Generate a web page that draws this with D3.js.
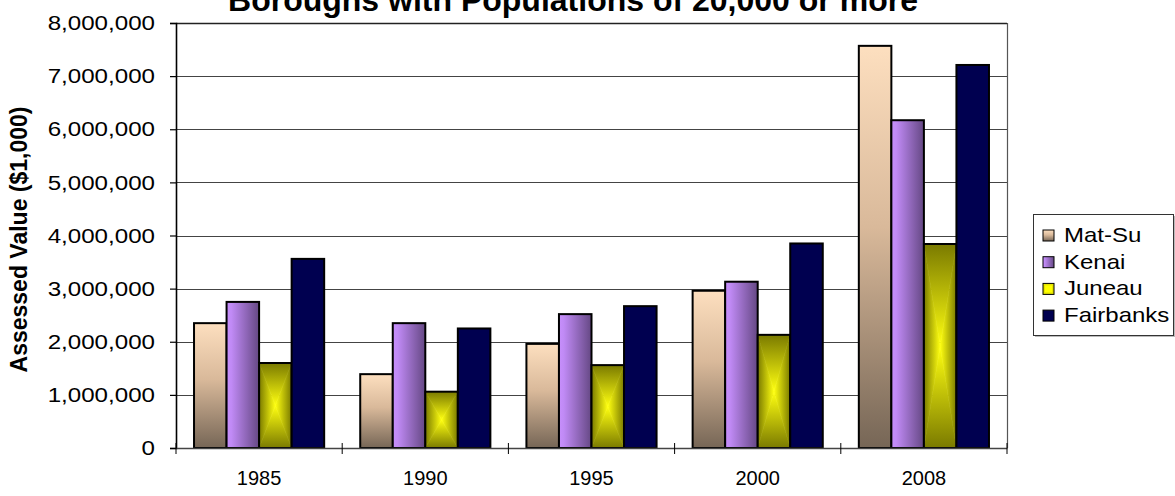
<!DOCTYPE html>
<html>
<head>
<meta charset="utf-8">
<script src="https://cdn.jsdelivr.net/npm/d3@7/dist/d3.min.js"></script>
<style>
  html, body { margin: 0; padding: 0; background: #fff; }
  svg { display: block; font-family: Arial, "Liberation Sans", sans-serif; }
</style>
</head>
<body>
<svg id="chart" width="1175" height="496"></svg>
<script>
// Assessed value by borough, thousands of dollars
const categories = ["1985", "1990", "1995", "2000", "2008"];
const seriesNames = ["Mat-Su", "Kenai", "Juneau", "Fairbanks"];
const matSu     = [2350000, 1390000, 1960000, 2960000, 7570000];
const kenai     = [2750000, 2350000, 2520000, 3130000, 6170000];
const juneau    = [1600000, 1060000, 1560000, 2130000, 3840000];
const fairbanks = [3560000, 2250000, 2670000, 3850000, 7210000];
const yTicks = [0, 1000000, 2000000, 3000000, 4000000, 5000000, 6000000, 7000000, 8000000];

const titleText = "Boroughs with Populations of 20,000 or more";
const yTitleText = "Assessed Value ($1,000)";

const seriesValues = [matSu, kenai, juneau, fairbanks];

const svg = d3.select("#chart");
const plot = { left: 176, right: 1007, top: 23, bottom: 448 };

const x = d3.scaleBand().domain(categories).range([plot.left, plot.right]).padding(0);
const xs = d3.scaleBand().domain(seriesNames).range([0, x.bandwidth()])
  .paddingInner(0).paddingOuter(0.554);
const y = d3.scaleLinear().domain([0, 8000000]).range([plot.bottom, plot.top]);

// ---- gradients ----
const defs = svg.append("defs");
function linGrad(id, x1, y1, x2, y2, stops) {
  const g = defs.append("linearGradient").attr("id", id)
    .attr("x1", x1).attr("y1", y1).attr("x2", x2).attr("y2", y2);
  stops.forEach(([o, c]) => g.append("stop").attr("offset", o).attr("stop-color", c));
}
linGrad("gMatSu", 0, 0, 0, 1, [[0, "#fddfbf"], [0.45, "#d9b99a"], [1, "#766656"]]);
linGrad("gKenai", 0, 0, 1, 0, [[0, "#c78ffc"], [0.15, "#c08af5"], [1, "#654884"]]);
// rectangular (edge-to-centre) gradient for Juneau, built from four triangles
linGrad("gJTop", 0, 0, 0, 1, [[0, "#7a7a00"], [1, "#ffff10"]]);
linGrad("gJBot", 0, 1, 0, 0, [[0, "#7a7a00"], [1, "#ffff10"]]);
linGrad("gJLeft", 0, 0, 1, 0, [[0, "#7a7a00"], [1, "#ffff10"]]);
linGrad("gJRight", 1, 0, 0, 0, [[0, "#7a7a00"], [1, "#ffff10"]]);

// ---- title (top edge of the chart cuts through it) ----
svg.append("text")
  .attr("x", 573).attr("y", 11)
  .attr("text-anchor", "middle")
  .attr("font-weight", "bold")
  .attr("font-size", 32)
  .attr("fill", "#000")
  .text(titleText);

// ---- gridlines ----
svg.append("g").selectAll("line").data(yTicks).join("line")
  .attr("x1", plot.left).attr("x2", plot.right)
  .attr("y1", d => Math.round(y(d)) + 0.5).attr("y2", d => Math.round(y(d)) + 0.5)
  .attr("stroke", d => d === 8000000 ? "#222" : "#444")
  .attr("stroke-width", d => d === 8000000 ? 1.6 : 1);

// right border of plot area
svg.append("line")
  .attr("x1", plot.right + 0.5).attr("x2", plot.right + 0.5)
  .attr("y1", plot.top).attr("y2", plot.bottom)
  .attr("stroke", "#555").attr("stroke-width", 1.2);

// ---- bars ----
const barsData = [];
categories.forEach((c, i) => {
  seriesNames.forEach((s, j) => {
    barsData.push({ cat: c, series: s, value: seriesValues[j][i], j });
  });
});

const barG = svg.append("g");
barsData.forEach(d => {
  const bx = x(d.cat) + xs(d.series);
  const bw = xs.bandwidth();
  const by = y(d.value);
  const bh = y(0) - by;
  const g = barG.append("g");
  if (d.series === "Juneau") {
    const x0 = bx, x1 = bx + bw, y0 = by, y1 = by + bh;
    const cx = bx + bw / 2, cy = by + bh / 2;
    const tris = [
      [[x0, y0], [x1, y0], [cx, cy], "gJTop"],
      [[x0, y1], [x1, y1], [cx, cy], "gJBot"],
      [[x0, y0], [x0, y1], [cx, cy], "gJLeft"],
      [[x1, y0], [x1, y1], [cx, cy], "gJRight"]
    ];
    tris.forEach(t => {
      g.append("path")
        .attr("d", `M${t[0][0]},${t[0][1]}L${t[1][0]},${t[1][1]}L${t[2][0]},${t[2][1]}Z`)
        .attr("fill", `url(#${t[3]})`)
        .attr("stroke", `url(#${t[3]})`)
        .attr("stroke-width", 0.6);
    });
    g.append("rect").attr("x", bx).attr("y", by).attr("width", bw).attr("height", bh)
      .attr("fill", "none").attr("stroke", "#000").attr("stroke-width", 2);
  } else {
    const fill = d.series === "Mat-Su" ? "url(#gMatSu)"
      : d.series === "Kenai" ? "url(#gKenai)" : "#000050";
    g.append("rect").attr("x", bx).attr("y", by).attr("width", bw).attr("height", bh)
      .attr("fill", fill).attr("stroke", "#000").attr("stroke-width", 2);
  }
});

// ---- y axis ----
const yAxis = svg.append("g")
  .attr("transform", `translate(${plot.left},0)`)
  .call(d3.axisLeft(y).tickValues(yTicks).tickFormat(d3.format(",")).tickSize(6));
yAxis.select(".domain").attr("stroke", "#000").attr("stroke-width", 1.6);
yAxis.selectAll(".tick line").attr("stroke", "#000").attr("stroke-width", 1.2);
yAxis.selectAll(".tick text")
  .attr("x", 0)
  .attr("transform", "translate(-21,0) scale(1.15,1)")
  .attr("font-size", 21).attr("fill", "#000")
  .attr("font-family", "Arial, 'Liberation Sans', sans-serif");

// ---- x axis ----
const xAxis = svg.append("g")
  .attr("transform", `translate(0,${plot.bottom})`)
  .call(d3.axisBottom(x).tickSize(0).tickPadding(23));
xAxis.select(".domain").attr("stroke", "#444").attr("stroke-width", 1.6);
xAxis.selectAll(".tick text")
  .attr("font-size", 20).attr("fill", "#000")
  .attr("font-family", "Arial, 'Liberation Sans', sans-serif");
// category separator ticks crossing the axis
const edges = categories.map(c => x(c)).concat([x.range()[1]]);
xAxis.append("g").selectAll("line").data(edges).join("line")
  .attr("x1", d => d).attr("x2", d => d)
  .attr("y1", -5).attr("y2", 6)
  .attr("stroke", "#000").attr("stroke-width", 1);

// ---- y axis title ----
svg.append("text")
  .attr("transform", `translate(27,${(plot.top + plot.bottom) / 2 + 4}) rotate(-90)`)
  .attr("text-anchor", "middle")
  .attr("font-weight", "bold")
  .attr("font-size", 23)
  .attr("fill", "#000")
  .text(yTitleText);

// ---- legend ----
const legend = svg.append("g");
const lg = { x: 1033, y: 214, w: 140, h: 121 };
legend.append("rect")
  .attr("x", lg.x + 2).attr("y", lg.y + 2).attr("width", lg.w).attr("height", lg.h)
  .attr("fill", "#bbb");
legend.append("rect")
  .attr("x", lg.x + 0.5).attr("y", lg.y + 0.5).attr("width", lg.w).attr("height", lg.h)
  .attr("fill", "#fff").attr("stroke", "#333").attr("stroke-width", 1);
const swatchFill = {
  "Mat-Su": "url(#gMatSu)", "Kenai": "url(#gKenai)", "Juneau": "#e6e600", "Fairbanks": "#000050"
};
const row = legend.selectAll("g.item").data(seriesNames).join("g")
  .attr("class", "item")
  .attr("transform", (d, i) => `translate(${lg.x + 10},${lg.y + 21 + i * 26.7})`);
row.append("rect")
  .attr("x", 0).attr("y", -5).attr("width", 11).attr("height", 11)
  .attr("fill", d => swatchFill[d]).attr("stroke", "#000").attr("stroke-width", 1);
row.filter(d => d === "Juneau").append("rect")
  .attr("x", 2).attr("y", -3).attr("width", 7).attr("height", 7).attr("fill", "#ffff00");
row.append("text")
  .attr("x", 0).attr("y", 0).attr("dy", "0.35em")
  .attr("transform", "translate(21,0) scale(1.2,1)")
  .attr("font-size", 20).attr("fill", "#000")
  .text(d => d);
</script>
</body>
</html>
